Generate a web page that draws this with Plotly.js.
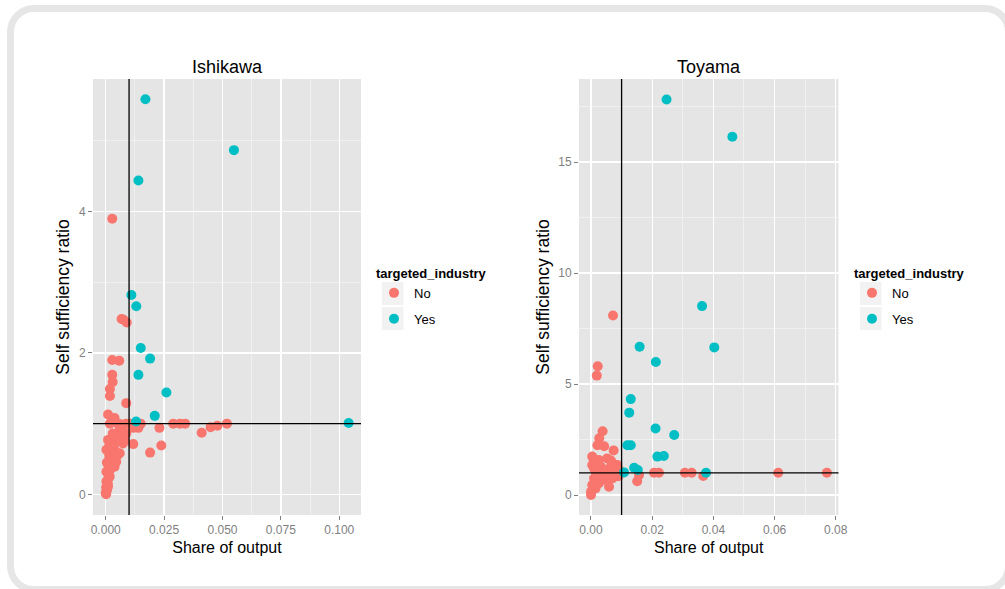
<!DOCTYPE html>
<html>
<head>
<meta charset="utf-8">
<script src="https://cdn.plot.ly/plotly-3.0.1.min.js"></script>
<style>
  html, body { margin: 0; padding: 0; background: #ffffff; overflow: hidden; }
  #wrap { position: relative; width: 1005px; height: 589px; }
  #chart { position: absolute; left: 0; top: 0; width: 1005px; height: 589px; }
  #frame { position: absolute; left: 7px; top: 5px; width: 1005px; height: 588px; box-sizing: border-box;
           border: 7.5px solid #e6e6e6; border-radius: 27px; pointer-events: none; }
</style>
</head>
<body>
<div id="wrap">
  <div id="chart"></div>
  <div id="frame"></div>
</div>
<script>
// ---------------- DATA ----------------
const panels = ["Ishikawa", "Toyama"];
const groups = ["No", "Yes"];

// Ishikawa, targeted_industry = No
const ishNoX = [0.0028, 0.0068, 0.0076, 0.0090, 0.0028, 0.0058, 0.0028, 0.0030, 0.0018, 0.0018,
                0.0088, 0.0010, 0.0038, 0.0018, 0.0053, 0.0062, 0.0087, 0.0103, 0.0118, 0.0140,
                0.0150, 0.0230, 0.0289, 0.0318, 0.0340, 0.0411, 0.0449, 0.0478, 0.0519, 0.0118,
                0.0190, 0.0238, 0.0060, 0.0067, 0.0053, 0.0074, 0.0038, 0.0060, 0.0010, 0.0003,
                0.0024, 0.0045, 0.0010, 0.0038, 0.0003, 0.0017, 0.0003, 0.0010, 0.0000, 0.0002,
                0.0024, 0.0030, 0.0088, 0.0081, 0.0015, 0.0005, 0.0020, 0.0008, 0.0012, 0.0030,
                0.0045, 0.0050, 0.0070, 0.0015, 0.0002, 0.0006, 0.0009];
const ishNoY = [3.90, 2.48, 2.47, 2.43, 1.90, 1.89, 1.69, 1.59, 1.49, 1.39,
                1.29, 1.13, 1.08, 1.00, 1.00, 0.99, 1.00, 1.00, 0.94, 0.94,
                1.00, 0.94, 1.00, 1.00, 1.00, 0.87, 0.95, 0.97, 1.00, 0.71,
                0.59, 0.69, 0.91, 0.82, 0.75, 0.72, 0.63, 0.58, 0.77, 0.63,
                0.51, 0.46, 0.42, 0.39, 0.32, 0.25, 0.18, 0.11, 0.02, 0.00,
                0.72, 0.86, 0.86, 0.77, 0.55, 0.45, 0.35, 0.20, 0.30, 0.65,
                0.80, 0.55, 0.95, 0.68, 0.10, 0.06, 0.15];

// Ishikawa, targeted_industry = Yes
const ishYesX = [0.0170, 0.0549, 0.0140, 0.0110, 0.0131, 0.0150, 0.0190, 0.0140, 0.0260, 0.0210, 0.0130, 0.1040];
const ishYesY = [5.59, 4.87, 4.44, 2.82, 2.66, 2.07, 1.92, 1.69, 1.44, 1.11, 1.03, 1.01];

// Toyama, targeted_industry = No
const toyNoX = [0.0072, 0.0022, 0.0019, 0.0038, 0.0027, 0.0021, 0.0043, 0.0074, 0.0004, 0.0026,
                0.0053, 0.0004, 0.0032, 0.0070, 0.0086, 0.0015, 0.0048, 0.0075, 0.0092, 0.0010,
                0.0037, 0.0070, 0.0004, 0.0026, 0.0059, 0.0000, 0.0015, 0.0000, 0.0048, 0.0026,
                0.0157, 0.0151, 0.0206, 0.0222, 0.0307, 0.0329, 0.0367, 0.0612, 0.0771, 0.0060,
                0.0040, 0.0080, 0.0020, 0.0090, 0.0055, 0.0010, 0.0065];
const toyNoY = [8.09, 5.80, 5.38, 2.87, 2.56, 2.24, 2.20, 2.01, 1.73, 1.58,
                1.65, 1.35, 1.27, 1.43, 1.35, 1.05, 1.05, 1.05, 1.13, 0.75,
                0.82, 0.75, 0.45, 0.53, 0.37, 0.15, 0.30, 0.00, 0.68, 0.89,
                0.90, 0.62, 1.00, 1.00, 1.00, 1.00, 0.86, 1.00, 1.00, 1.20,
                1.00, 0.95, 0.95, 0.85, 0.90, 1.20, 1.55];

// Toyama, targeted_industry = Yes
const toyYesX = [0.0247, 0.0462, 0.0363, 0.0403, 0.0159, 0.0212, 0.0130, 0.0125, 0.0211, 0.0272,
                 0.0119, 0.0130, 0.0217, 0.0238, 0.0141, 0.0153, 0.0108, 0.0376];
const toyYesY = [17.82, 16.14, 8.51, 6.65, 6.68, 5.99, 4.32, 3.71, 3.00, 2.70,
                 2.24, 2.24, 1.73, 1.76, 1.23, 1.13, 1.02, 1.00];

// reference lines
const shareCut = 0.01;
const ratioCut = 1;

// axis ticks
const ishXTicks = [0, 0.025, 0.05, 0.075, 0.1];
const ishXLabels = ["0.000", "0.025", "0.050", "0.075", "0.100"];
const ishYTicks = [0, 2, 4];
const toyXTicks = [0, 0.02, 0.04, 0.06, 0.08];
const toyXLabels = ["0.00", "0.02", "0.04", "0.06", "0.08"];
const toyYTicks = [0, 5, 10, 15];

// ---------------- STYLE ----------------
const colNo = "#F8766D", colYes = "#00BFC4";
const FONT = "Liberation Sans, Arial, Helvetica, sans-serif";
const W = 1005, H = 589;
const px = v => v / W, py = v => 1 - v / H;

function pts(x, y, name, color, xa, ya, leg) {
  return { type: "scatter", mode: "markers", x: x, y: y, name: name, xaxis: xa, yaxis: ya,
           legend: leg, legendgroup: leg + name, showlegend: true,
           marker: { color: color, size: 10, line: { width: 0 } }, hoverinfo: "x+y" };
}

const data = [
  pts(ishNoX, ishNoY, groups[0], colNo, "x", "y", "legend"),
  pts(ishYesX, ishYesY, groups[1], colYes, "x", "y", "legend"),
  pts(toyNoX, toyNoY, groups[0], colNo, "x2", "y2", "legend2"),
  pts(toyYesX, toyYesY, groups[1], colYes, "x2", "y2", "legend2")
];

const tickFont = { family: FONT, size: 12, color: "#7F7F7F" };

function xax(domain, range, tickvals, ticktext, minorDtick, anchor) {
  return { domain: domain, range: range, anchor: anchor, tickmode: "array", tickvals: tickvals, ticktext: ticktext,
           showgrid: true, gridcolor: "#FFFFFF", gridwidth: 1.3, zeroline: false, showline: false,
           ticks: "outside", ticklen: 4, tickcolor: "#7F7F7F", tickwidth: 1, tickfont: tickFont,
           minor: { showgrid: true, gridcolor: "#F2F2F2", gridwidth: 0.8, tick0: 0, dtick: minorDtick, ticks: "" },
           title: { text: "Share of output", font: { family: FONT, size: 16, color: "#000000" }, standoff: 5 },
           automargin: false, fixedrange: true };
}
function yax(domain, range, tickvals, minorDtick, anchor) {
  return { domain: domain, range: range, anchor: anchor, tickmode: "array", tickvals: tickvals,
           ticktext: tickvals.map(String),
           showgrid: true, gridcolor: "#FFFFFF", gridwidth: 1.3, zeroline: false, showline: false,
           ticks: "outside", ticklen: 4, tickcolor: "#7F7F7F", tickwidth: 1, tickfont: tickFont,
           minor: { showgrid: true, gridcolor: "#F2F2F2", gridwidth: 0.8, tick0: 0, dtick: minorDtick, ticks: "" },
           title: { text: "Self sufficiency ratio", font: { family: FONT, size: 17.5, color: "#000000" }, standoff: 4 },
           automargin: false, fixedrange: true };
}

const yDom = [py(515), py(79)];

function legendCfg(left) {
  return { x: px(left), y: py(261), xanchor: "left", yanchor: "top", bgcolor: "rgba(0,0,0,0)", borderwidth: 0,
           font: { family: FONT, size: 13, color: "#000000" }, tracegroupgap: 6, itemclick: false, itemdoubleclick: false,
           title: { text: "<b>targeted_industry</b>", font: { family: FONT, size: 13, color: "#000000" } } };
}

function keyBox(left, top) {
  return { type: "rect", xref: "paper", yref: "paper", x0: px(left), x1: px(left + 21.5), y0: py(top + 23), y1: py(top),
           fillcolor: "#F2F2F2", line: { width: 0 }, layer: "below" };
}

const layout = {
  width: W, height: H,
  margin: { l: 0, r: 0, t: 0, b: 0, pad: 0 },
  paper_bgcolor: "#FFFFFF", plot_bgcolor: "#E5E5E5",
  font: { family: FONT },
  showlegend: true,
  xaxis: xax([px(93), px(361)], [-0.00544, 0.1093], ishXTicks, ishXLabels, 0.0125, "y"),
  yaxis: yax(yDom, [-0.293, 5.877], ishYTicks, 1, "x"),
  xaxis2: xax([px(579), px(838.5)], [-0.00392, 0.0809], toyXTicks, toyXLabels, 0.01, "y2"),
  yaxis2: yax(yDom, [-0.90, 18.74], toyYTicks, 2.5, "x2"),
  legend: legendCfg(374),
  legend2: legendCfg(852),
  annotations: [
    { text: panels[0], xref: "x domain", yref: "paper", x: 0.5, y: py(67), xanchor: "center", yanchor: "middle",
      showarrow: false, font: { family: FONT, size: 18, color: "#000000" } },
    { text: panels[1], xref: "x2 domain", yref: "paper", x: 0.5, y: py(67), xanchor: "center", yanchor: "middle",
      showarrow: false, font: { family: FONT, size: 18, color: "#000000" } }
  ],
  shapes: [
    { type: "line", xref: "x", yref: "y domain", x0: shareCut, x1: shareCut, y0: 0, y1: 1, line: { color: "#000000", width: 1.3 } },
    { type: "line", xref: "x domain", yref: "y", x0: 0, x1: 1, y0: ratioCut, y1: ratioCut, line: { color: "#000000", width: 1.3 } },
    { type: "line", xref: "x2", yref: "y2 domain", x0: shareCut, x1: shareCut, y0: 0, y1: 1, line: { color: "#000000", width: 1.3 } },
    { type: "line", xref: "x2 domain", yref: "y2", x0: 0, x1: 1, y0: ratioCut, y1: ratioCut, line: { color: "#000000", width: 1.3 } },
    keyBox(382, 282), keyBox(382, 307),
    keyBox(860, 282), keyBox(860, 307)
  ]
};

Plotly.newPlot("chart", data, layout, { displayModeBar: false, staticPlot: true });
</script>
</body>
</html>
